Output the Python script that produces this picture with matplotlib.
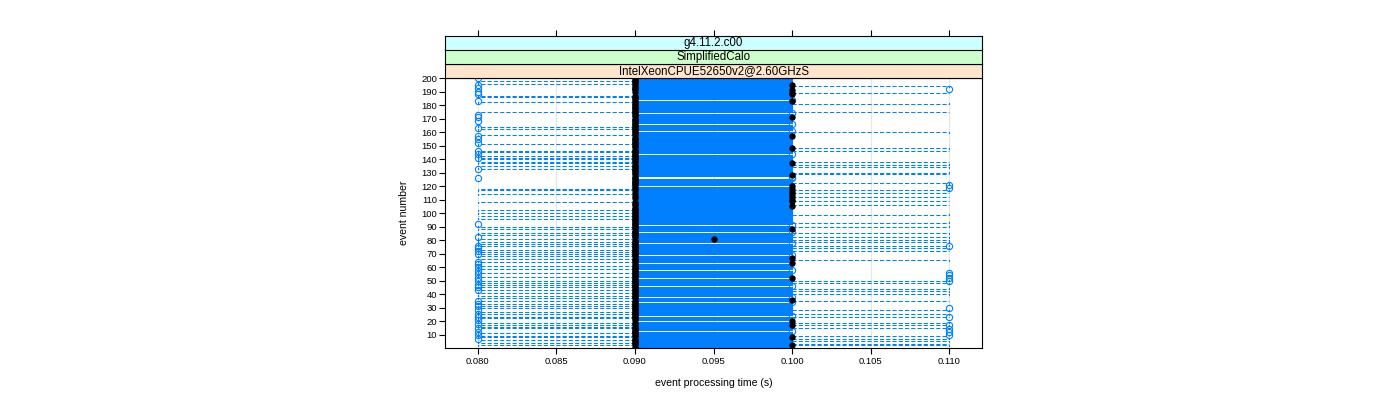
import matplotlib
matplotlib.use('Agg')
import matplotlib.pyplot as plt
import numpy as np

plt.rcParams['font.family'] = ['Liberation Sans', 'DejaVu Sans']

# ---------------- data ----------------
events = list(range(1, 201))

# events whose median time is 0.10 s (others 0.09 s), one at 0.095 s
med_010 = [195, 191, 189, 188, 183, 171, 157, 148, 137, 128, 120, 118, 116, 114,
           112, 110, 109, 105, 88, 67, 63, 52, 36, 20, 17, 8, 2]
med_0095 = [81]

# events whose box collapses (Q1 == Q3 == median)
gap_events = [184, 174, 166, 161, 144, 127, 126, 120, 91, 86, 78, 69, 63, 58,
              52, 46, 38, 34, 24, 20, 13]

# lower whisker reaching 0.08 s
whislo_008 = [198, 196, 187, 186, 184, 182, 175, 164, 162, 158, 151, 146, 145, 142,
              141, 140, 138, 137, 135, 133, 118, 117, 114, 108, 102, 100, 98, 96,
              90, 88, 85, 84, 81, 79, 77, 76, 73, 71, 70, 68, 66, 64, 61, 59, 56,
              53, 50, 48, 47, 45, 43, 41, 39, 37, 35, 33, 31, 30, 27, 25, 23, 22,
              19, 17, 16, 15, 11, 9, 8, 6, 4, 2]

# upper whisker reaching 0.11 s
whishi_011 = [194, 189, 181, 175, 160, 148, 146, 138, 136, 134, 130, 129, 122, 117,
              115, 112, 109, 106, 99, 93, 90, 85, 82, 80, 79, 76, 74, 72, 65, 50,
              48, 46, 44, 42, 40, 35, 28, 25, 23, 19, 17, 15, 9, 7, 5, 3, 2]

# outlier points
fl_008 = [200, 195, 193, 190, 188, 183, 173, 171, 168, 163, 157, 155, 152, 146,
          144, 141, 133, 126, 92, 82, 76, 74, 72, 70, 64, 62, 60, 57, 55, 52, 50,
          47, 45, 43, 35, 33, 31, 28, 25, 23, 21, 18, 15, 12, 10, 7]
fl_009 = [192, 120, 52]
fl_010 = [184, 174, 166, 161, 144, 127, 126, 91, 86, 78, 69, 58, 46, 38, 34, 24, 13]
fl_011 = [192, 121, 119, 76, 56, 54, 52, 50, 30, 23, 17, 14, 12, 10]

x_ticks = [0.080, 0.085, 0.090, 0.095, 0.100, 0.105, 0.110]
y_ticks = list(range(10, 201, 10))

strip_labels = ['IntelXeonCPUE52650v2@2.60GHzS', 'SimplifiedCalo', 'g4.11.2.c00']
strip_colors = ['#ffe5cc', '#ccffcc', '#ccffff']

# ---------------- build box statistics ----------------
stats = []
for e in events:
    med = 0.10 if e in med_010 else (0.095 if e in med_0095 else 0.09)
    gap = e in gap_events
    q1, q3 = (med, med) if gap else (0.09, 0.10)
    whislo = 0.08 if (e in whislo_008 and not gap) else q1
    whishi = 0.11 if (e in whishi_011 and not gap) else q3
    fliers = [v for v, lst in ((0.08, fl_008), (0.09, fl_009),
                               (0.10, fl_010), (0.11, fl_011)) if e in lst]
    stats.append(dict(med=med, q1=q1, q3=q3, whislo=whislo, whishi=whishi,
                      fliers=fliers, mean=med))

# ---------------- figure ----------------
blue = '#0080ff'
fig = plt.figure(figsize=(14, 4), dpi=100)
L, W = 444.5 / 1400, 538 / 1400
ax = fig.add_axes([L, 52.5 / 400, W, 270 / 400])

kw = dict(positions=events, widths=0.5, capwidths=0.5, showmeans=True,
          manage_ticks=False,
          boxprops=dict(color=blue, linewidth=0.75),
          whiskerprops=dict(color=blue, linewidth=0.75, linestyle=(0, (4, 2))),
          capprops=dict(color=blue, linewidth=0.75),
          medianprops=dict(linewidth=0),
          meanprops=dict(marker='o', markerfacecolor='black', markeredgecolor='black',
                         markersize=3.6, linestyle='none', zorder=4),
          flierprops=dict(marker='o', markerfacecolor='none', markeredgecolor=blue,
                          markersize=4.5, markeredgewidth=0.8, linestyle='none',
                          zorder=3))
try:
    ax.bxp(stats, orientation='horizontal', **kw)
except TypeError:
    ax.bxp(stats, vert=False, **kw)

xlim = (0.08 - 0.0021, 0.11 + 0.0021)
ax.set_xlim(*xlim)
ax.set_ylim(0.5, 200.5)
ax.set_xticks(x_ticks)
ax.set_xticklabels([f'{v:.3f}' for v in x_ticks])
ax.set_yticks(y_ticks)
ax.set_yticklabels([str(v) for v in y_ticks])
ax.tick_params(axis='both', direction='out', length=4, width=0.8, labelsize=6.8,
               colors='black')
ax.tick_params(axis='x', pad=3)
ax.tick_params(axis='y', pad=1.5)
ax.grid(axis='x', color='#e6e6e6', linewidth=0.8)
ax.set_axisbelow(True)
for s in ax.spines.values():
    s.set_linewidth(0.8)
    s.set_color('black')

ax.set_xlabel('event processing time (s)', fontsize=7.6)
ax.xaxis.label.set_va('center')
ax.xaxis.set_label_coords(0.5, (347.5 - 383) / 270)
ax.set_ylabel('event number', fontsize=7.6)
ax.yaxis.label.set_va('center')
ax.yaxis.set_label_coords((404 - 444.5) / 538, 0.5)

# strips
bottoms = [1 - 77.5 / 400, 1 - 63.5 / 400, 1 - 49.5 / 400]
for i, (lab, col, b) in enumerate(zip(strip_labels, strip_colors, bottoms)):
    sax = fig.add_axes([L, b, W, 14 / 400])
    sax.set_facecolor(col)
    sax.set_xlim(*xlim)
    sax.set_ylim(0, 1)
    sax.set_yticks([])
    if i == 2:
        sax.set_xticks(x_ticks)
        sax.tick_params(axis='x', bottom=False, top=True, labelbottom=False,
                        labeltop=False, direction='out', length=4, width=0.8)
    else:
        sax.set_xticks([])
    for s in sax.spines.values():
        s.set_linewidth(0.8)
        s.set_color('black')
    sax.text(0.5, 0.47, lab, transform=sax.transAxes, ha='center', va='center',
             fontsize=8.3)

fig.savefig('out.png', dpi=100)
